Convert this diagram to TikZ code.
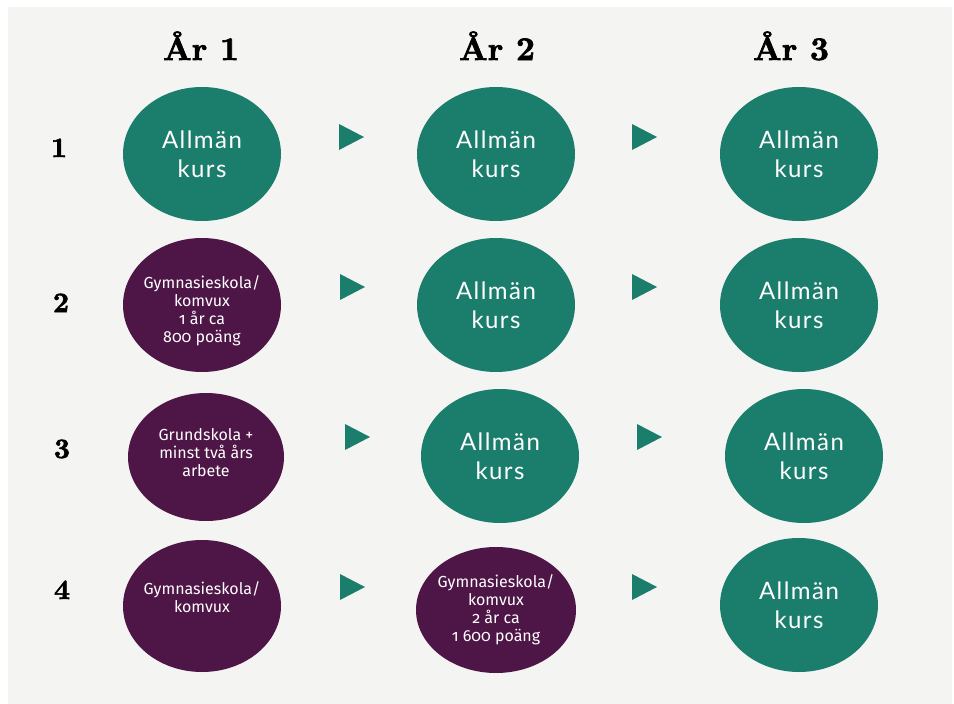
\documentclass[tikz,border=0pt]{standalone}
\usepackage{fontspec}
\usetikzlibrary{shapes.geometric}
\newfontfamily\tealfont{Lato}[LetterSpace=6]
\newfontfamily\purpfont{Fira Sans}[Numbers=OldStyle]
\newfontfamily\headfont{lmroman10-bold.otf}[FakeBold=2]
\definecolor{bggray}{HTML}{F4F4F2}
\definecolor{teal}{HTML}{1B7D6C}
\definecolor{plum}{HTML}{4E1547}
\tikzset{
  tealbub/.style={ellipse, fill=teal, minimum width=158pt, minimum height=134pt, inner sep=0pt,
    text=white, align=center, font=\tealfont\fontsize{24}{29}\selectfont},
  plumbub/.style={ellipse, fill=plum, minimum width=158pt, minimum height=134pt, inner sep=0pt},
  plumtext/.style={inner sep=0pt, text=white, align=center, font=\purpfont\fontsize{16}{18}\selectfont},
  header/.style={anchor=base, font=\headfont\fontsize{33}{33}\selectfont},
  rownum/.style={anchor=base, font=\headfont\fontsize{28}{28}\selectfont},
  tri/.style={fill=teal}
}
\begin{document}
\begin{tikzpicture}[x=1pt,y=-1pt]
\useasboundingbox (0,0) rectangle (954,704);
\fill[bggray] (8,7) rectangle (952,704);
% headers
\node[header] (h1) at (201,60) {År 1};
\node[header] (h2) at (497,60) {År 2};
\node[header] (h3) at (791,60) {År 3};
% row numbers
\node[rownum] (n1) at (59,157) {1};
\node[rownum] (n2) at (61,312) {2};
\node[rownum] (n3) at (62,458) {3};
\node[rownum] (n4) at (62,599) {4};
% row 1
\node[tealbub] (r1c1) at (202,154) {Allmän\\kurs};
\node[tealbub] (r1c2) at (496,154) {Allmän\\kurs};
\node[tealbub] (r1c3) at (799,154) {Allmän\\kurs};
% row 2
\node[plumbub] (r2c1) at (202,305) {};
\node[plumtext] (t2c1) at ([yshift=-6pt]r2c1.center) {Gymnasieskola/\\komvux\\1 år ca\\800 poäng};
\node[tealbub] (r2c2) at (496,305) {Allmän\\kurs};
\node[tealbub] (r2c3) at (799,305) {Allmän\\kurs};
% row 3
\node[plumbub, minimum width=156pt, minimum height=128pt] (r3c1) at (206,457) {};
\node[plumtext] (t3c1) at ([yshift=4pt]r3c1.center) {Grundskola +\\minst två års\\arbete};
\node[tealbub] (r3c2) at (500,456) {Allmän\\kurs};
\node[tealbub] (r3c3) at (804,456) {Allmän\\kurs};
% row 4
\node[plumbub, minimum height=132pt] (r4c1) at (202,606) {};
\node[plumtext] (t4c1) at ([yshift=9pt]r4c1.center) {Gymnasieskola/\\komvux};
\node[plumbub, minimum width=160pt, minimum height=126pt] (r4c2) at (496,610) {};
\node[plumtext] (t4c2) at (r4c2.center) {Gymnasieskola/\\komvux\\2 år ca\\1 600 poäng};
\node[tealbub] (r4c3) at (799,605) {Allmän\\kurs};
% arrow triangles
\coordinate (a11) at (351,137); \coordinate (a12) at (644,137);
\coordinate (a21) at (352,287); \coordinate (a22) at (644,287);
\coordinate (a31) at (357,437); \coordinate (a32) at (649,437);
\coordinate (a41) at (352,587); \coordinate (a42) at (644,587);
\foreach \a in {a11,a12,a21,a22,a31,a32,a41,a42}
  \fill[tri] (\a) ++(-12,-13) -- ++(25,13) -- ++(-25,13) -- cycle;
\end{tikzpicture}
\end{document}
